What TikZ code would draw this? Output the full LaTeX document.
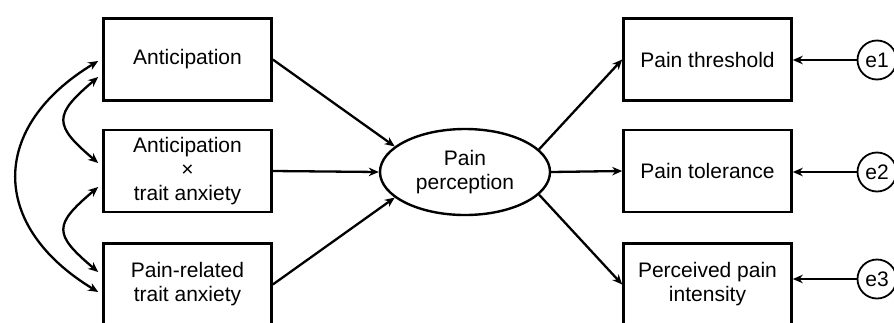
\documentclass[tikz,border=0pt]{standalone}
\usepackage{fontspec}
\setmainfont{Liberation Sans}
\usetikzlibrary{arrows.meta,shapes.geometric}
\begin{document}
\begin{tikzpicture}[x=1pt,y=-1pt,
  txt/.style={font=\fontsize{21}{24}\selectfont, align=center},
  box/.style={txt, draw, line width=2.6pt, minimum width=168pt, minimum height=82pt, inner sep=0pt},
  ell/.style={txt, draw, ellipse, line width=2.4pt, minimum width=170pt, minimum height=86pt, inner sep=0pt},
  err/.style={txt, draw, circle, line width=1.8pt, minimum size=39pt, inner sep=0pt},
  tip/.tip={Stealth[length=10pt,width=8.5pt]},
  conn/.style={line width=2.3pt, -tip},
  dconn/.style={line width=2.3pt, tip-tip},
]
\useasboundingbox (0,0) rectangle (894,322);
\clip (0,0) rectangle (894,322);
\node[box] (ant) at (187.5,59.5) {Anticipation};
\node[box] (int) at (187.5,171) {Anticipation\\×\\trait anxiety};
\node[box] (tra) at (187.5,284.5) {Pain-related\\trait anxiety};
\node[ell] (pp) at (465,172) {Pain\\perception};
\node[box] (thr) at (707.5,59.5) {Pain threshold};
\node[box] (tol) at (707.5,171) {Pain tolerance};
\node[box] (inten) at (707.5,284.5) {Perceived pain\\intensity};
\node[err] (e1) at (877,60) {e1};
\node[err] (e2) at (877,172) {e2};
\node[err] (e3) at (877,279) {e3};
\draw[conn] (ant.east) -- (pp.160);
\draw[conn] (int.east) -- (pp.west);
\draw[conn] (tra.east) -- (pp.200);
\draw[conn] (pp.17) -- (thr.west);
\draw[conn] (pp.east) -- (tol.west);
\draw[conn] (pp.-17) -- (inten.west);
\draw[conn] (e1.west) -- (e1.west -| thr.east);
\draw[conn] (e2.west) -- (e2.west -| tol.east);
\draw[conn] (e3.west) -- (e3.west -| inten.east);
\draw[dconn] ([shift={(-4pt,-1.5pt)}]ant.west) .. controls +(-109,66) and +(-109,-66) .. ([shift={(-4pt,-7.5pt)}]tra.west);
\draw[dconn] ([shift={(-4pt,-17.5pt)}]ant.west) .. controls +(-45,38) and +(-45,-38) .. ([shift={(-4pt,8pt)}]int.west);
\draw[dconn] ([shift={(-4pt,-16pt)}]int.west) .. controls +(-45,38) and +(-45,-38) .. ([shift={(-4pt,12.5pt)}]tra.west);
\end{tikzpicture}
\end{document}
